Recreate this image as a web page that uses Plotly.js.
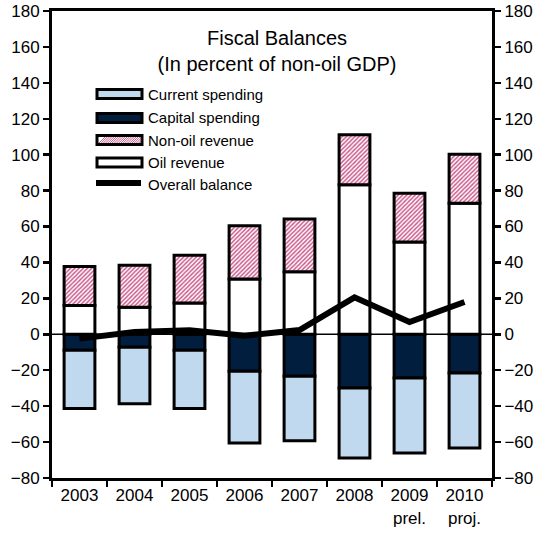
<!DOCTYPE html>
<html>
<head>
<meta charset="utf-8">
<script src="https://cdn.plot.ly/plotly-3.0.1.min.js"></script>
<style>
  html, body { margin: 0; padding: 0; background: #fff; }
  #chart { width: 539px; height: 537px; }
</style>
</head>
<body>
<div id="chart"></div>
<script>
// Fiscal balances, in percent of non-oil GDP
const years = ['2003', '2004', '2005', '2006', '2007', '2008', '2009<br>prel.', '2010<br>proj.'];
const capitalSpending = [-8.9, -7.2, -8.9, -20.6, -23.4, -29.9, -24.3, -21.5];
const currentSpending = [-32.4, -31.4, -32.4, -39.9, -35.8, -38.9, -41.8, -41.8];
const oilRevenue = [16.0, 15.0, 17.4, 30.8, 34.8, 83.3, 51.4, 72.9];
const nonOilRevenue = [21.8, 23.4, 26.6, 29.7, 29.4, 27.8, 27.2, 27.4];
const overallBalance = [-2.4, 1.3, 2.2, -0.8, 2.4, 20.6, 6.8, 18.0];

const FONT = '"Liberation Sans", Arial, sans-serif';
const LIGHT_BLUE = '#c0d9ef';
const NAVY = '#021e3e';
const PINK = '#cc5c8e';
const outline = { color: '#000', width: 3 };
const BAR_W = 0.56;

const traces = [
  { type: 'bar', name: 'Capital spending', x: years, y: capitalSpending, width: BAR_W,
    marker: { color: NAVY, line: outline }, showlegend: false, hoverinfo: 'y+name' },
  { type: 'bar', name: 'Current spending', x: years, y: currentSpending, width: BAR_W,
    marker: { color: LIGHT_BLUE, line: outline }, showlegend: false, hoverinfo: 'y+name' },
  { type: 'bar', name: 'Oil revenue', x: years, y: oilRevenue, width: BAR_W,
    marker: { color: '#ffffff', line: outline }, showlegend: false, hoverinfo: 'y+name' },
  { type: 'bar', name: 'Non-oil revenue', x: years, y: nonOilRevenue, width: BAR_W,
    marker: { color: '#ffffff', line: outline,
      pattern: { shape: '/', fgcolor: PINK, bgcolor: '#ffffff', size: 3, solidity: 0.5 } },
    showlegend: false, hoverinfo: 'y+name' },
  { type: 'scatter', mode: 'lines', name: 'Overall balance', x: years, y: overallBalance,
    yaxis: 'y2', line: { color: '#000', width: 6 }, showlegend: false, hoverinfo: 'y+name' }
];

// Legend drawn as swatches + labels inside the plot area (paper coordinates)
const PLOT = { l: 52, r: 47, t: 11, b: 59, W: 539, H: 537 };
const pw = PLOT.W - PLOT.l - PLOT.r, ph = PLOT.H - PLOT.t - PLOT.b;
const px = v => (v - PLOT.l) / pw;
const py = v => (PLOT.H - PLOT.b - v) / ph;

const legendItems = [
  { label: 'Current spending', cy: 94, fill: LIGHT_BLUE },
  { label: 'Capital spending', cy: 118, fill: NAVY },
  { label: 'Non-oil revenue', cy: 140, fill: 'pattern' },
  { label: 'Oil revenue', cy: 162.5, fill: '#ffffff' },
  { label: 'Overall balance', cy: 184.5, fill: 'line' }
];

const shapes = [];
const annotations = [];
legendItems.forEach(it => {
  if (it.fill === 'line') {
    shapes.push({ type: 'line', xref: 'paper', yref: 'paper',
      x0: px(96), x1: px(141), y0: py(it.cy - 1.5), y1: py(it.cy - 1.5),
      line: { color: '#000', width: 6 } });
  } else if (it.fill === 'pattern') {
    shapes.push({ type: 'rect', xref: 'paper', yref: 'paper',
      x0: px(97), x1: px(142), y0: py(it.cy + 4.5), y1: py(it.cy - 4.5),
      fillcolor: '#ffffff', line: { color: '#000', width: 3 } });
    // pink hatching inside the swatch
    for (let x = 99; x < 141; x += 2.2) {
      const x1 = Math.min(x + 6, 141);
      shapes.push({ type: 'line', xref: 'paper', yref: 'paper',
        x0: px(x), x1: px(x1), y0: py(it.cy + 3), y1: py(it.cy + 3 - (x1 - x)),
        line: { color: PINK, width: 1 } });
    }
  } else {
    shapes.push({ type: 'rect', xref: 'paper', yref: 'paper',
      x0: px(97), x1: px(142), y0: py(it.cy + 4.5), y1: py(it.cy - 4.5),
      fillcolor: it.fill, line: { color: '#000', width: 3 } });
  }
  annotations.push({ xref: 'paper', yref: 'paper', x: px(146), y: py(it.cy),
    xanchor: 'left', yanchor: 'middle', showarrow: false, text: it.label,
    font: { family: FONT, size: 15, color: '#000' } });
});

const axisY = {
  range: [-80, 180], dtick: 20, tick0: 0, showgrid: false,
  ticks: 'outside', ticklen: 6, tickwidth: 2.5, tickcolor: '#000',
  showline: true, linecolor: '#000', linewidth: 3,
  tickfont: { family: FONT, size: 17, color: '#000' },
  zeroline: false, fixedrange: true
};

const layout = {
  width: 539, height: 537,
  margin: { l: PLOT.l, r: PLOT.r, t: PLOT.t, b: PLOT.b, pad: 0 },
  paper_bgcolor: '#fff', plot_bgcolor: '#fff',
  barmode: 'relative', bargap: 0.44,
  showlegend: false,
  font: { family: FONT, color: '#000' },
  title: {
    text: 'Fiscal Balances<br>(In percent of non-oil GDP)',
    font: { family: FONT, size: 20, color: '#000' },
    xref: 'container', x: 0.514, xanchor: 'center',
    yref: 'container', y: 0.917, yanchor: 'top'
  },
  xaxis: {
    type: 'category', tickson: 'boundaries', ticks: 'outside', ticklen: 6, tickwidth: 2.5,
    tickcolor: '#000', showline: true, mirror: true, linecolor: '#000', linewidth: 3,
    showgrid: false, tickfont: { family: FONT, size: 17, color: '#000' }, fixedrange: true
  },
  yaxis: Object.assign({}, axisY, { side: 'left' }),
  yaxis2: Object.assign({}, axisY, { side: 'right', overlaying: 'y', matches: 'y' }),
  shapes: shapes.concat([
    { type: 'line', xref: 'paper', yref: 'y', x0: 0, x1: 1, y0: 0, y1: 0,
      line: { color: '#000', width: 1.5 }, layer: 'below' }
  ]),
  annotations: annotations
};

Plotly.newPlot('chart', traces, layout, { displayModeBar: false, staticPlot: true });
</script>
</body>
</html>
